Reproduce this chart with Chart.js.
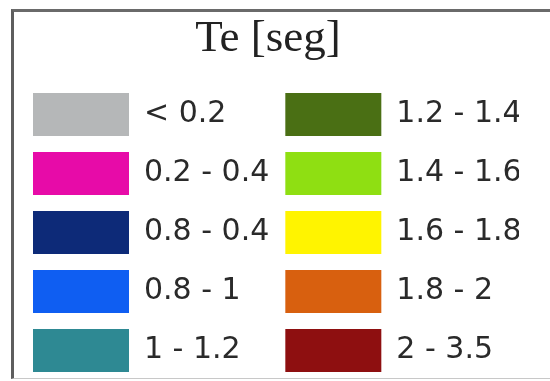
<!DOCTYPE html>
<html>
<head>
<meta charset="utf-8">
<script src="https://cdn.jsdelivr.net/npm/chart.js@4/dist/chart.umd.min.js"></script>
<style>
  html, body { margin: 0; padding: 0; background: #fff; overflow: hidden; }
  #wrap { position: relative; width: 550px; height: 381px; overflow: hidden; }
  #frame {
    position: absolute; left: 11px; top: 9px; width: 560px; height: 366px;
    border-left: 3px solid #5e5e5e; border-top: 3px solid #6a6a6a; border-bottom: 1px solid #c8c8c8;
  }
  #teChart { position: absolute; left: 0; top: 0; }
</style>
</head>
<body>
<div id="wrap">
  <div id="frame"></div>
  <canvas id="teChart" width="550" height="420"></canvas>
</div>
<script>
// legenda Te [seg]: classi e colori
const classLabels = ['< 0.2', '0.2 - 0.4', '0.8 - 0.4', '0.8 - 1', '1 - 1.2',
                     '1.2 - 1.4', '1.4 - 1.6', '1.6 - 1.8', '1.8 - 2', '2 - 3.5'];
const classColors = ['#b5b7b8', '#e70ba8', '#0d2a78', '#0f5ef2', '#2e8993',
                     '#4a6f14', '#8fdf12', '#fff400', '#d8600f', '#8e0f10'];
const legendTitle = 'Te [seg]';

// un dataset vuoto per classe, serve solo per la legenda
const datasets = classLabels.map((lab, i) => ({
  label: lab,
  data: [],
  backgroundColor: classColors[i],
  borderWidth: 0
}));

new Chart(document.getElementById('teChart'), {
  type: 'bar',
  data: { labels: [], datasets },
  options: {
    responsive: false,
    animation: false,
    layout: { padding: { left: 17 } },
    scales: { x: { display: false }, y: { display: false } },
    plugins: {
      tooltip: { enabled: false },
      legend: {
        position: 'left',
        align: 'start',
        maxWidth: 502,
        title: {
          display: true,
          text: legendTitle,
          color: '#222',
          font: { family: 'Liberation Serif', size: 45 },
          padding: { top: 17, bottom: 6 }
        },
        labels: {
          boxWidth: 96,
          boxHeight: 43,
          padding: 16,
          color: '#2a2a2a',
          font: { family: 'DejaVu Sans', size: 30 }
        }
      }
    }
  }
});
</script>
</body>
</html>
